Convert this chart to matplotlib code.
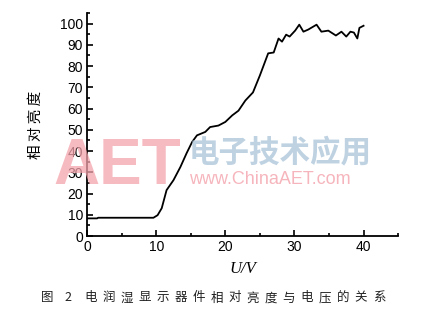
import matplotlib
matplotlib.use("Agg")
import matplotlib.pyplot as plt
from matplotlib.ticker import MultipleLocator

# Data
voltage = [0, 1.45, 1.6, 5, 9.6, 10.2, 10.8, 11.5, 12.5, 13.5, 14.4, 15.2, 15.9, 17.1,
           17.8, 19, 20, 21, 21.9, 22.9, 24, 25, 26.2, 27, 27.7, 28.2, 28.8, 29.3, 30.1,
           30.7, 31.3, 32, 33.2, 33.9, 34.9, 36, 36.8, 37.5, 38.1, 38.6, 39.1, 39.4, 40]
brightness = [8.3, 8.3, 8.6, 8.6, 8.6, 9.8, 13.1, 21.6, 26.3, 32.5, 39, 44.3, 47.4, 49,
              51.3, 52, 53.7, 56.8, 59, 63.8, 67.6, 75.6, 86, 86.4, 93, 91.5, 94.8, 93.9,
              96.7, 99.5, 96.2, 97.2, 99.5, 96.2, 96.7, 94.4, 96.2, 93.9, 96.2, 95.8, 93,
              98, 99]
xticks = [0, 10, 20, 30, 40]
yticks = list(range(0, 101, 10))
fig_no = ["图", "2"]
caption = "电润湿显示器件相对亮度与电压的关系"
ylab = "相 对 亮 度"

cjk = ["Noto Sans CJK SC", "DejaVu Sans"]

fig = plt.figure(figsize=(4.29, 3.17), dpi=100)
ax = fig.add_axes([0.203, 0.2555, 0.725, 0.7035])

# watermark
fig.text(0.125, 0.42, "AET", fontsize=46, color="#f4a3ac", fontweight="bold",
         family="Liberation Sans", alpha=0.75, zorder=0)
fig.text(0.44, 0.49, "电子技术应用", fontsize=22, color="#a9c3d8", family=cjk,
         alpha=0.75, fontweight="bold", zorder=0)
fig.text(0.44, 0.42, "www.ChinaAET.com", fontsize=13, color="#f4a3ac",
         family="Liberation Sans", alpha=0.8, zorder=0)
ax.patch.set_alpha(0)

ax.plot(voltage, brightness, color="black", lw=1.3)

ax.set_xlim(0, 45)
ax.set_ylim(0, 105)
ax.set_xticks(xticks)
ax.set_yticks(yticks)
ax.xaxis.set_minor_locator(MultipleLocator(5))
ax.yaxis.set_minor_locator(MultipleLocator(5))
ax.tick_params(which="both", direction="in", width=1.2)
ax.tick_params(which="major", length=4, labelsize=10, pad=3)
ax.tick_params(which="minor", length=2)
for lbl in ax.get_xticklabels() + ax.get_yticklabels():
    lbl.set_family("Liberation Sans")
for s in ["top", "right"]:
    ax.spines[s].set_visible(False)
for s in ["left", "bottom"]:
    ax.spines[s].set_linewidth(1.3)

ax.set_ylabel(ylab, family=cjk, fontsize=10.5, labelpad=12)
ax.set_xlabel("U/V", family="Liberation Serif", fontstyle="italic", fontsize=12, labelpad=5)

# caption, letter-spaced
W = 429
for i, ch in enumerate(fig_no):
    fig.text((47.5 + i * 20) / W, 0.06, ch, ha="center", va="center", family=cjk,
             fontsize=9, color="#222222")
for i, ch in enumerate(caption):
    fig.text((91 + i * 18) / W, 0.06, ch, ha="center", va="center", family=cjk,
             fontsize=9, color="#222222")

fig.savefig("out.png", dpi=100)
